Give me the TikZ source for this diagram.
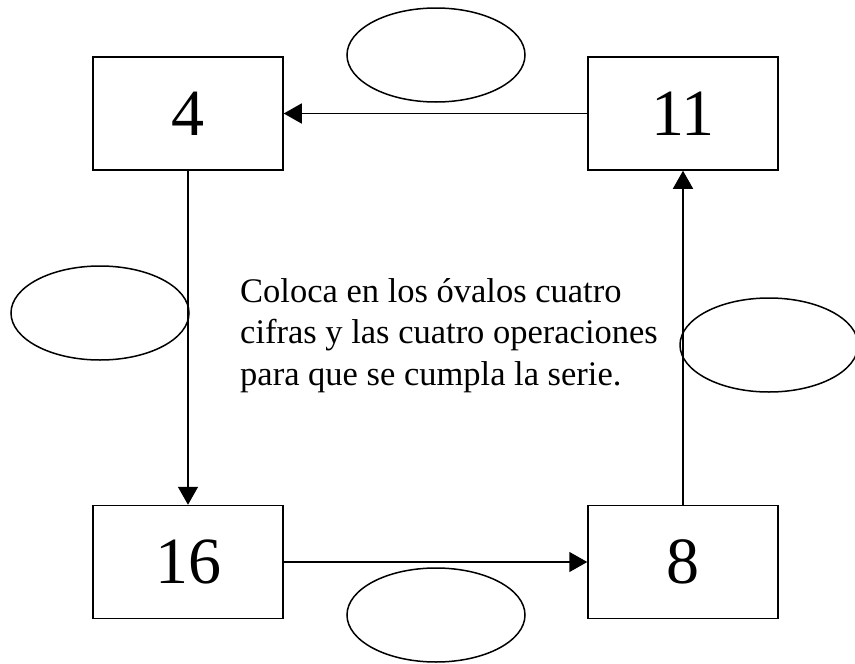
\documentclass[tikz,border=0pt]{standalone}
\usepackage{fontspec}
\setmainfont{Liberation Serif}
\usetikzlibrary{arrows.meta,shapes.geometric}

\begin{document}
\begin{tikzpicture}[
  x=1pt, y=-1pt,
  box/.style={draw, line width=1.5pt, minimum width=190pt, minimum height=113pt, inner sep=0pt, font=\fontsize{66}{70}\selectfont},
  oval/.style={draw, ellipse, line width=1.5pt, minimum width=178pt, minimum height=94pt, inner sep=0pt},
  arrow/.style={-{Triangle[length=18pt,width=20pt]}, line width=1.5pt}
]
\useasboundingbox (0,0) rectangle (855,664);

\node[box] (four) at (188,113.5) {4};
\node[box] (eleven) at (683,113.5) {11};
\node[box] (sixteen) at (188,562) {16};
\node[box] (eight) at (683,562) {8};

\node[oval] (otop) at (436,55) {};
\node[oval] (oleft) at (100,313) {};
\node[oval] (oright) at (769,345) {};
\node[oval] (obottom) at (436,615) {};

\node[anchor=north west, align=left, inner sep=0pt, font=\fontsize{34.5}{41.5}\selectfont] (hint) at (240,278)
  {Coloca en los óvalos cuatro\\cifras y las cuatro operaciones\\para que se cumpla la serie.};

\draw[arrow] (eleven) -- (four);
\draw[arrow] (four) -- (sixteen);
\draw[arrow] (sixteen) -- (eight);
\draw[arrow] (eight) -- (eleven);
\end{tikzpicture}
\end{document}
